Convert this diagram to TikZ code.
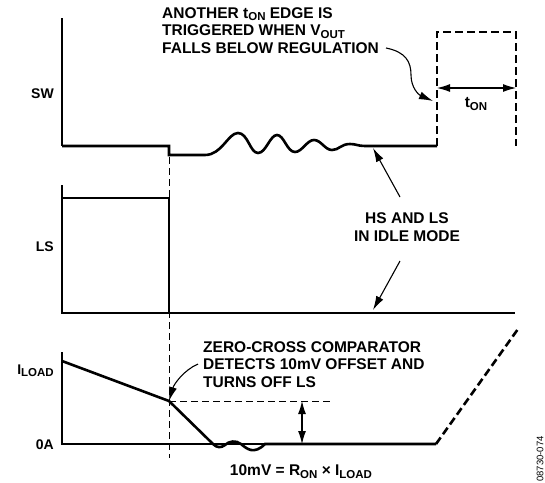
\documentclass[tikz,border=0pt]{standalone}
\usepackage{fontspec}
\setmainfont{Liberation Sans}
\usetikzlibrary{arrows.meta}
\newcommand{\lowidx}[1]{\raisebox{-0.35ex}{\fontsize{11.5}{11.5}\selectfont #1}}
\tikzset{
  axlbl/.style={font=\fontsize{14}{16}\selectfont\bfseries, inner sep=0pt},
  note/.style={font=\fontsize{15.5}{17.5}\selectfont\bfseries, inner sep=0pt, align=left},
  axis/.style={line width=1.5pt},
  sig/.style={line width=2.6pt, line join=miter},
  sigdash/.style={line width=2.6pt, dash pattern=on 8pt off 4pt},
  guide/.style={line width=0.8pt, dash pattern=on 7pt off 4pt},
  pointer/.style={line width=1.1pt, -{Latex[length=14pt,width=8pt]}},
  both/.style={line width=1.1pt, {Latex[length=13pt,width=8pt]}-{Latex[length=13pt,width=8pt]}},
}
\begin{document}
\begin{tikzpicture}[x=1pt,y=-1pt]
\useasboundingbox (0,0) rectangle (545,482);
% guide through the LS turn-off instant
\draw[guide] (169,157) -- (169,458);
% SW trace
\draw[axis] (62,18) -- (62,146);
\draw[sig] (62,146) -- (169,146) -- (169,155) -- (205,155)
  .. controls (222,155) and (228,133) .. (238,133)
  .. controls (248,133) and (250,153) .. (258,153)
  .. controls (266,153) and (270,135) .. (277,135)
  .. controls (284,135) and (287,152) .. (295,152)
  .. controls (302,152) and (307,140) .. (314,140)
  .. controls (321,140) and (325,150) .. (332,150)
  .. controls (339,150) and (341,144) .. (350,144)
  .. controls (356,144) and (358,146) .. (365,146) -- (437,146);
\draw[sigdash] (437,146) -- (437,32) -- (516,32) -- (516,146);
% LS trace
\draw[axis] (62,185) -- (62,313) -- (169,313);
\draw[sig] (62,198) -- (169,198) -- (169,313) -- (515,313);
% inductor current
\draw[axis] (62,352) -- (62,444) -- (436,444);
\draw[sig] (62,361) -- (169,401) -- (213,444)
  .. controls (217,448) and (221,448) .. (225,445)
  .. controls (229,441) and (236,440) .. (241,444)
  .. controls (247,449) and (254,455) .. (265,444) -- (436,444);
\draw[sigdash] (436,444) -- (518,329);
\draw[guide] (169,401) -- (332,401);

\coordinate (knee) at (169,401);
\coordinate (zero) at (302,444);
\coordinate (offs) at (302,401);
\coordinate (tonl) at (437,88);
\coordinate (tonr) at (516,88);
\coordinate (swidle) at (373,148);
\coordinate (lsidle) at (373,310);
\coordinate (edge) at (433,101);

% axis labels
\node[axlbl, anchor=base east] (swlab) at (54,98) {SW};
\node[axlbl, anchor=base east] (lslab) at (54,251) {LS};
\node[axlbl, anchor=base east] (iload) at (54,374) {I\lowidx{LOAD}};
\node[axlbl, anchor=base east] (zeroa) at (54,449) {0A};

% notes
\node[note, anchor=north west] (another) at (162,7)
  {ANOTHER t\lowidx{ON} EDGE IS\\TRIGGERED WHEN V\lowidx{OUT}\\FALLS BELOW REGULATION};
\node[note, align=center] (idle) at (407,227) {HS AND LS\\IN IDLE MODE};
\node[note, anchor=north west] (zc) at (203,341)
  {ZERO-CROSS COMPARATOR\\DETECTS 10mV OFFSET AND\\TURNS OFF LS};
\node[note] (ton) at (476,104) {t\lowidx{ON}};
\node[note] (formula) at (301,472) {10mV = R\lowidx{ON} × I\lowidx{LOAD}};
\node[font=\fontsize{9.5}{9.5}\selectfont, rotate=90, inner sep=0pt] (figno) at (540,459) {08730-074};

% pointers
\draw[pointer] (386,48) .. controls (406,52) and (411,62) .. (411,75)
  .. controls (411,88) and (419,95) .. (edge);
\draw[both] (tonl) -- (tonr);
\draw[both] (offs) -- (zero);
\draw[pointer] (400,197) -- (swidle);
\draw[pointer] (400,261) -- (lsidle);
\draw[pointer] (198,364) .. controls (184,370) and (174,384) .. (knee);
\end{tikzpicture}
\end{document}
